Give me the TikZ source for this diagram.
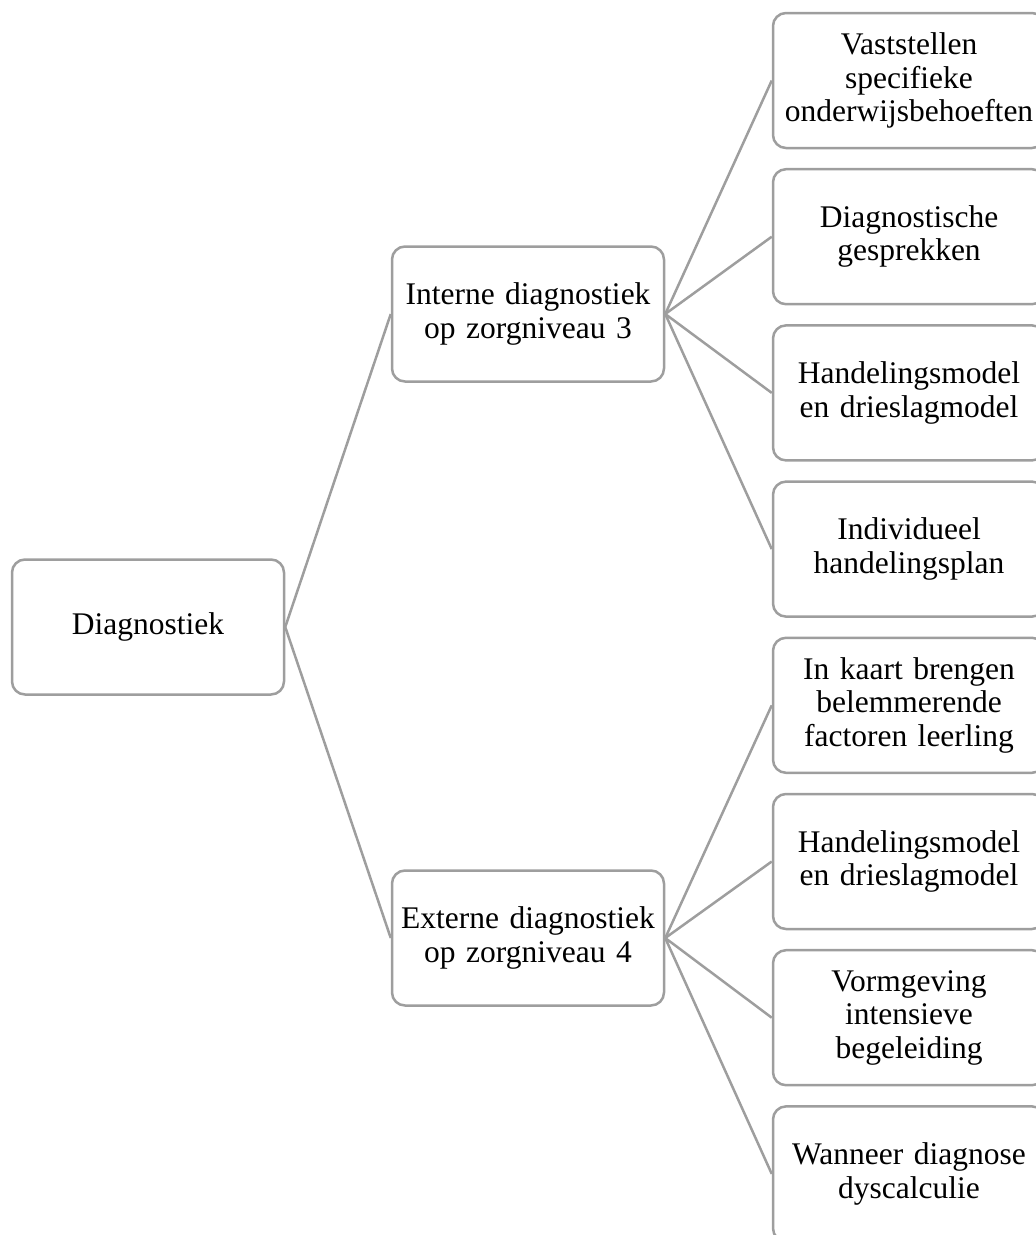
\documentclass[tikz,border=0pt]{standalone}
\usepackage{fontspec}
\setmainfont{Liberation Serif}
\definecolor{linegray}{RGB}{158,158,158}
\tikzset{
  box/.style={draw=linegray, line width=2.5pt, rounded corners=13pt, fill=white,
    minimum width=272pt, minimum height=135pt, text width=262pt, align=center,
    inner sep=0pt, font=\fontsize{31.5}{33.5}\selectfont},
  conn/.style={draw=linegray, line width=2.5pt}
}
\begin{document}
\begin{tikzpicture}[x=1pt,y=-1pt]
\useasboundingbox (0,0) rectangle (1036,1235);
\node[box] (diag) at (148,627) {Diagnostiek};
\node[box] (int) at (528,314) {Interne diagnostiek\\op zorgniveau 3};
\node[box] (ext) at (528,938) {Externe diagnostiek\\op zorgniveau 4};
\node[box] (r1) at (909,80.5) {Vaststellen\\specifieke\\onderwijsbehoeften};
\node[box] (r2) at (909,236.7) {Diagnostische\\gesprekken};
\node[box] (r3) at (909,392.9) {Handelingsmodel\\en drieslagmodel};
\node[box] (r4) at (909,549.1) {Individueel\\handelingsplan};
\node[box] (r5) at (909,705.3) {In kaart brengen\\belemmerende\\factoren leerling};
\node[box] (r6) at (909,861.5) {Handelingsmodel\\en drieslagmodel};
\node[box] (r7) at (909,1017.7) {Vormgeving\\intensieve\\begeleiding};
\node[box] (r8) at (909,1173.9) {Wanneer diagnose\\dyscalculie};
\draw[conn] (diag.east) -- (int.west);
\draw[conn] (diag.east) -- (ext.west);
\foreach \r in {r1,r2,r3,r4} \draw[conn] (int.east) -- (\r.west);
\foreach \r in {r5,r6,r7,r8} \draw[conn] (ext.east) -- (\r.west);
\end{tikzpicture}
\end{document}
